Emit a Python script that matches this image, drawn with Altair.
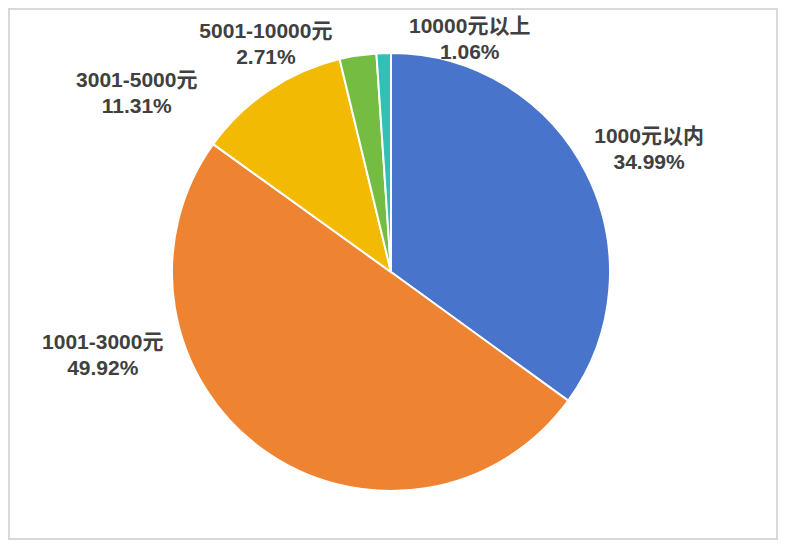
import altair as alt
import pandas as pd

categories = ["1000元以内", "1001-3000元", "3001-5000元", "5001-10000元", "10000元以上"]
shares = [34.99, 49.92, 11.31, 2.71, 1.06]
colors = ["#4874CB", "#EE8332", "#F2BA02", "#75BD42", "#30C0B4"]

total = sum(shares)
df = pd.DataFrame({
    "cat": categories,
    "share": shares,
    "idx": list(range(len(categories))),
    "label": [f"{c}\n{s:.2f}%" for c, s in zip(categories, shares)],
})

CX, CY, R = 383, 264, 219
theta_scale = alt.Scale(domain=[0, total])

base = alt.Chart(df)

arcs = base.mark_arc(radius=R, stroke="white", strokeWidth=2).encode(
    theta=alt.Theta("share:Q", stack=True, scale=theta_scale),
    color=alt.Color("cat:N", scale=alt.Scale(domain=categories, range=colors), legend=None),
    order=alt.Order("idx:Q"),
    x=alt.value(CX),
    y=alt.value(CY),
)

# label offsets (dx, dy) from the slice's mid-angle point on the rim
offsets = {
    "1000元以内": (63, -36),
    "1001-3000元": (-160, -107),
    "3001-5000元": (-132, -9),
    "5001-10000元": (-92, -24),
    "10000元以上": (86, -26),
}

label_base = base.transform_window(
    cum="sum(share)", sort=[alt.SortField("idx")]
).transform_calculate(mid="datum.cum - datum.share / 2")

layers = [arcs]
for cat, (dx, dy) in offsets.items():
    layers.append(
        label_base.transform_filter(alt.datum.cat == cat)
        .mark_text(
            radius=R, dx=dx, dy=dy, lineBreak="\n", lineHeight=26,
            font="Liberation Sans, Noto Sans CJK SC", fontWeight="bold",
            fontSize=21, color="#404040", align="center", baseline="middle",
        )
        .encode(
            theta=alt.Theta("mid:Q", scale=theta_scale),
            text="label:N",
            x=alt.value(CX),
            y=alt.value(CY),
        )
    )

chart = alt.layer(*layers).properties(
    width=770, height=532, padding=0,
    autosize=alt.AutoSizeParams(type="none"),
).configure_view(stroke="#d9d9d9", strokeWidth=4)

chart.save("out.html", embed_options={"renderer": "svg", "actions": False})
